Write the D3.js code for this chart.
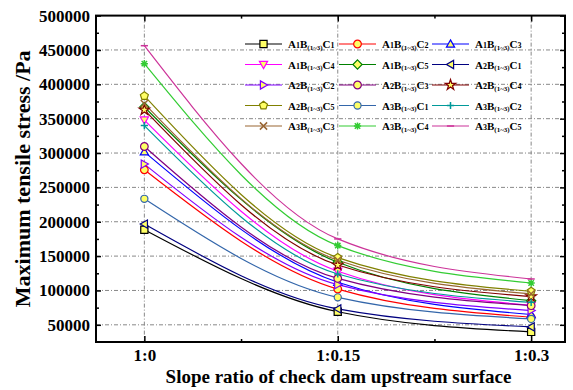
<!DOCTYPE html>
<html><head><meta charset="utf-8">
<script src="https://cdn.jsdelivr.net/npm/d3@7"></script>
<style>body{margin:0;background:#fff}svg{display:block}</style>
</head><body>
<svg id="c" width="573" height="390"></svg>
<script>
const categories = ["1:0", "1:0.15", "1:0.3"];
const yTicks = [50000,100000,150000,200000,250000,300000,350000,400000,450000,500000];
const seriesNames = ["A1C1","A1C2","A1C3","A1C4","A1C5","A2C1","A2C2","A2C3","A2C4","A2C5","A3C1","A3C2","A3C3","A3C4","A3C5"];
const A1C1 = [188400, 69000, 39700];
const A1C2 = [275600, 102000, 61000];
const A1C3 = [301700, 112000, 65000];
const A1C4 = [348000, 128000, 78300];
const A1C5 = [367000, 141000, 85200];
const A2C1 = [196600, 73100, 47000];
const A2C2 = [283900, 108400, 70800];
const A2C3 = [309500, 117500, 77900];
const A2C4 = [362800, 137000, 91000];
const A2C5 = [383100, 147800, 98700];
const A3C1 = [233400, 90000, 58600];
const A3C2 = [340000, 124000, 82700];
const A3C3 = [372000, 144000, 95000];
const A3C4 = [430100, 165300, 110900];
const A3C5 = [456200, 175000, 116700];
const seriesValues = [A1C1,A1C2,A1C3,A1C4,A1C5,A2C1,A2C2,A2C3,A2C4,A2C5,A3C1,A3C2,A3C3,A3C4,A3C5];
const colors = ["#000000","#ff0000","#0000ff","#ff00ff","#008000","#000080","#8000ff","#800080","#800000","#808000","#3366aa","#009999","#996633","#33cc33","#cc3399"];
const markers = ["square","circle","triUp","triDown","diamond","triLeft","triRight","circle","star","pentagon","circleS","plus","cross","asterisk","minus"];

const svg = d3.select("#c");
const L=96, R=565, T=15.6, B=342;
const x = d3.scaleLinear().domain([-0.25, 2.175]).range([L, R]);
const y = d3.scaleLinear().domain([25000, 500000]).range([B, T]);
const font = "'Liberation Serif','Times New Roman',serif";

// grid
const grid = svg.append("g").attr("stroke","#888").attr("stroke-width",1).attr("stroke-dasharray","4,2,1,2");
yTicks.filter(v=>v<500000).forEach(v=>grid.append("line").attr("x1",L).attr("x2",R).attr("y1",y(v)).attr("y2",y(v)));
categories.forEach((c,i)=>grid.append("line").attr("x1",x(i)).attr("x2",x(i)).attr("y1",T).attr("y2",B));

// axes
const yMinor = d3.range(75000, 500000, 50000);
const axL = d3.axisLeft(y).tickValues(yTicks).tickFormat(d3.format("d")).tickSizeInner(-5).tickSizeOuter(0).tickPadding(6);
const gL = svg.append("g").attr("transform",`translate(${L},0)`).call(axL);
gL.append("g").call(d3.axisLeft(y).tickValues(yMinor).tickFormat("").tickSizeInner(-3).tickSizeOuter(0));
const gR = svg.append("g").attr("transform",`translate(${R},0)`).call(d3.axisRight(y).tickValues(yTicks).tickFormat("").tickSizeInner(-5).tickSizeOuter(0));
gR.append("g").call(d3.axisRight(y).tickValues(yMinor).tickFormat("").tickSizeInner(-3).tickSizeOuter(0));
const axB = d3.axisBottom(x).tickValues([0,1,2]).tickFormat(i=>categories[i]).tickSizeInner(-6).tickSizeOuter(0).tickPadding(7);
const gB = svg.append("g").attr("transform",`translate(0,${B})`).call(axB);
gB.append("g").call(d3.axisBottom(x).tickValues([0.5,1.5]).tickFormat("").tickSizeInner(-3).tickSizeOuter(0));
const gT = svg.append("g").attr("transform",`translate(0,${T})`).call(d3.axisTop(x).tickValues([0,1,2]).tickFormat("").tickSizeInner(-6).tickSizeOuter(0));
gT.append("g").call(d3.axisTop(x).tickValues([0.5,1.5]).tickFormat("").tickSizeInner(-3).tickSizeOuter(0));
[gL,gR,gB,gT].forEach(g=>{g.selectAll(".domain").remove(); g.selectAll("line").attr("stroke","#000").attr("stroke-width",1.5);
  g.selectAll("text").attr("font-family",font).attr("font-weight","bold").attr("font-size",17).attr("fill","#000");});
svg.append("rect").attr("x",L).attr("y",T).attr("width",R-L).attr("height",B-T).attr("fill","none").attr("stroke","#000").attr("stroke-width",2);

// titles
svg.append("text").attr("transform",`translate(30,${(T+B)/2}) rotate(-90)`).attr("text-anchor","middle")
  .attr("font-family",font).attr("font-weight","bold").attr("font-size",22).text("Maximum tensile stress /Pa");
svg.append("text").attr("x",(L+R)/2+8).attr("y",383).attr("text-anchor","middle")
  .attr("font-family",font).attr("font-weight","bold").attr("font-size",19).text("Slope ratio of check dam upstream surface");

// marker path
function mpath(type){
  const s=3.6;
  switch(type){
    case "square": return `M${-s},${-s}H${s}V${s}H${-s}Z`;
    case "circle": return d3.symbol(d3.symbolCircle, 46)();
    case "circleS": return d3.symbol(d3.symbolCircle, 40)();
    case "triUp": return `M0,${-s-0.5}L${s+0.5},${s-0.5}L${-s-0.5},${s-0.5}Z`;
    case "triDown": return `M0,${s+0.5}L${s+0.5},${-s+0.5}L${-s-0.5},${-s+0.5}Z`;
    case "triLeft": return `M${-s-0.5},0L${s-0.5},${s+0.5}L${s-0.5},${-s-0.5}Z`;
    case "triRight": return `M${s+0.5},0L${-s+0.5},${s+0.5}L${-s+0.5},${-s-0.5}Z`;
    case "diamond": return `M0,${-s-1}L${s+1},0L0,${s+1}L${-s-1},0Z`;
    case "star": return d3.symbol(d3.symbolStar, 34)();
    case "pentagon": { let p=[]; for(let k=0;k<5;k++){const a=-Math.PI/2+k*2*Math.PI/5; p.push([4.2*Math.cos(a),4.2*Math.sin(a)]);} return "M"+p.join("L")+"Z"; }
    case "plus": return `M${-s},0H${s}M0,${-s}V${s}`;
    case "cross": return `M${-s},${-s}L${s},${s}M${s},${-s}L${-s},${s}`;
    case "asterisk": return `M${-s},0H${s}M0,${-s}V${s}M${-s*0.75},${-s*0.75}L${s*0.75},${s*0.75}M${s*0.75},${-s*0.75}L${-s*0.75},${s*0.75}`;
    case "minus": return `M${-s},0H${s}`;
  }
}
const openTypes = new Set(["plus","cross","asterisk","minus"]);
function drawMarker(g, type, color, cx, cy){
  g.append("path").attr("d",mpath(type)).attr("transform",`translate(${cx},${cy})`)
    .attr("fill", openTypes.has(type) ? "none" : "#ffff66").attr("stroke",color)
    .attr("stroke-width", openTypes.has(type) ? 1.5 : 1.2);
}

// series
const line = d3.line().x((d,i)=>x(i)).y(d=>y(d)).curve(d3.curveMonotoneX);
const gS = svg.append("g");
seriesValues.forEach((vals,k)=>{
  gS.append("path").attr("d",line(vals)).attr("fill","none").attr("stroke",colors[k]).attr("stroke-width",1.2);
});
seriesValues.forEach((vals,k)=>{
  vals.forEach((v,i)=>drawMarker(gS, markers[k], colors[k], x(i), y(v)));
});

// legend
const colX=[245,339,432], rowY=[44,64.5,85,105.5,126];
const lg = svg.append("g");
seriesNames.forEach((nm,k)=>{
  const cx=colX[k%3], cy=rowY[Math.floor(k/3)];
  lg.append("line").attr("x1",cx).attr("x2",cx+37).attr("y1",cy).attr("y2",cy).attr("stroke",colors[k]).attr("stroke-width",1.2);
  drawMarker(lg, markers[k], colors[k], cx+18.5, cy);
  const t = lg.append("text").attr("x",cx+43).attr("y",cy+4).attr("font-family",font).attr("font-weight","bold").attr("font-size",11).attr("fill","#000");
  t.append("tspan").text("A");
  t.append("tspan").attr("font-size",8).text(nm[1]);
  t.append("tspan").text("B");
  t.append("tspan").attr("font-size",7).attr("dy",1.5).text("(1~3)");
  t.append("tspan").attr("dy",-1.5).text("C");
  t.append("tspan").attr("font-size",8).text(nm[3]);
});
</script>
</body></html>
